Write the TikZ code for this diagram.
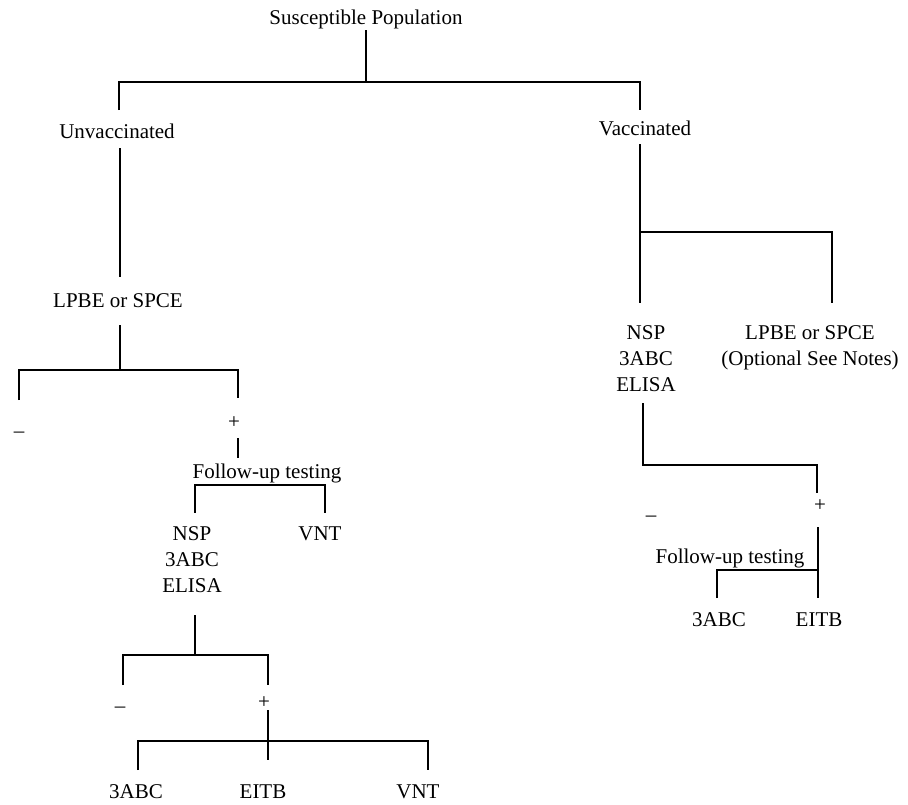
\documentclass[tikz,border=0pt]{standalone}
\usepackage{fontspec}
\setmainfont{Liberation Serif}
\begin{document}
\begin{tikzpicture}[x=1pt,y=-1pt,
  lbl/.style={font=\fontsize{21}{26}\selectfont, inner sep=0pt, outer sep=0pt,
              text height=14pt, text depth=4.5pt, anchor=base},
  multi/.style={font=\fontsize{21}{26}\selectfont, inner sep=0pt, outer sep=0pt,
                align=center, anchor=center},
  conn/.style={draw=black, line width=1.4pt}]
\useasboundingbox (0,0) rectangle (908,804);

% ---- nodes ----
\node[lbl] (sp)    at (366,24)  {Susceptible Population};
\node[lbl] (unv)   at (117,138) {Unvaccinated};
\node[lbl] (vac)   at (645,135) {Vaccinated};
\node[lbl] (lpbe1) at (118,307) {LPBE or SPCE};
\node[lbl] (m1)    at (19,437)  {–};
\node[lbl] (p1)    at (234,428) {+};
\node[lbl] (fu1)   at (267,478) {Follow-up testing};
\node[multi] (nsp1) at (192,560) {NSP\\3ABC\\ELISA};
\node[lbl] (vnt1)  at (320,540) {VNT};
\node[lbl] (m2)    at (120,712) {–};
\node[lbl] (p2)    at (264,708) {+};
\node[lbl] (abc1)  at (136,798) {3ABC};
\node[lbl] (eitb1) at (263,798) {EITB};
\node[lbl] (vnt2)  at (418,798) {VNT};
\node[multi] (nsp2) at (646,359) {NSP\\3ABC\\ELISA};
\node[multi] (lpbe2) at (810,348) {LPBE or SPCE\\(Optional See Notes)};
\node[lbl] (m3)    at (651,521) {–};
\node[lbl] (p3)    at (820,511) {+};
\node[lbl] (fu2)   at (730,563) {Follow-up testing};
\node[lbl] (abc2)  at (719,626) {3ABC};
\node[lbl] (eitb2) at (819,626) {EITB};

% ---- junction coordinates ----
\coordinate (b1)  at (366,82);
\coordinate (b1l) at (119,82);
\coordinate (b1r) at (640,82);
\coordinate (b3)  at (120,370);
\coordinate (b3l) at (19,370);
\coordinate (b3r) at (238,370);
\coordinate (fb1l) at (195,485);
\coordinate (fb1r) at (325,485);
\coordinate (b6)  at (195,655);
\coordinate (b6l) at (123,655);
\coordinate (b6r) at (268,655);
\coordinate (b7)  at (268,741);
\coordinate (b7l) at (138,741);
\coordinate (b7r) at (428,741);
\coordinate (b8)  at (640,232);
\coordinate (b8r) at (832,232);
\coordinate (b9)  at (643,465);
\coordinate (b9r) at (817,465);
\coordinate (fb2l) at (717,570);
\coordinate (fb2r) at (818,570);

% ---- connectors ----
\draw[conn, shorten <=1.5pt] (sp.south) -- (b1);
\draw[conn, shorten <=14pt, shorten >=11pt] (unv.north -| b1l) -- (b1l) -- (b1r) -- (vac.north -| b1r);
\draw[conn, shorten <=5.5pt, shorten >=16pt] (unv.south -| b3) -- (lpbe1.north -| b3);
\draw[conn, shorten <=13.5pt] (lpbe1.south -| b3) -- (b3);
\draw[conn, shorten <=23pt, shorten >=16pt] (m1.north -| b3l) -- (b3l) -- (b3r) -- (p1.north -| b3r);
\draw[conn, shorten <=5.5pt, shorten >=6pt] (p1.south -| b3r) -- (fu1.north -| b3r);
\draw[conn, shorten <=14pt, shorten >=13pt] (nsp1.north -| fb1l) -- (fb1l) -- (fb1r) -- (vnt1.north -| fb1r);
\draw[conn, shorten <=22pt] (nsp1.south -| b6) -- (b6);
\draw[conn, shorten <=13pt, shorten >=9pt] (m2.north -| b6l) -- (b6l) -- (b6r) -- (p2.north -| b6r);
\draw[conn, shorten <=-2.5pt, shorten >=24pt] (p2.south -| b7) -- (eitb1.north -| b7);
\draw[conn, shorten <=14pt, shorten >=14pt] (abc1.north -| b7l) -- (b7l) -- (b7r) -- (vnt2.north -| b7r);
\draw[conn, shorten <=4.5pt, shorten >=23pt] (vac.south -| b8) -- (nsp2.north -| b8);
\draw[conn, shorten >=23pt] (b8) -- (b8r) -- (lpbe2.north -| b8r);
\draw[conn, shorten <=11pt, shorten >=4pt] (nsp2.south -| b9) -- (b9) -- (b9r) -- (p3.north -| b9r);
\draw[conn, shorten <=11.5pt, shorten >=14pt] (p3.south -| fb2r) -- (eitb2.north -| fb2r);
\draw[conn, shorten <=14pt] (abc2.north -| fb2l) -- (fb2l) -- (fb2r);
\end{tikzpicture}
\end{document}
